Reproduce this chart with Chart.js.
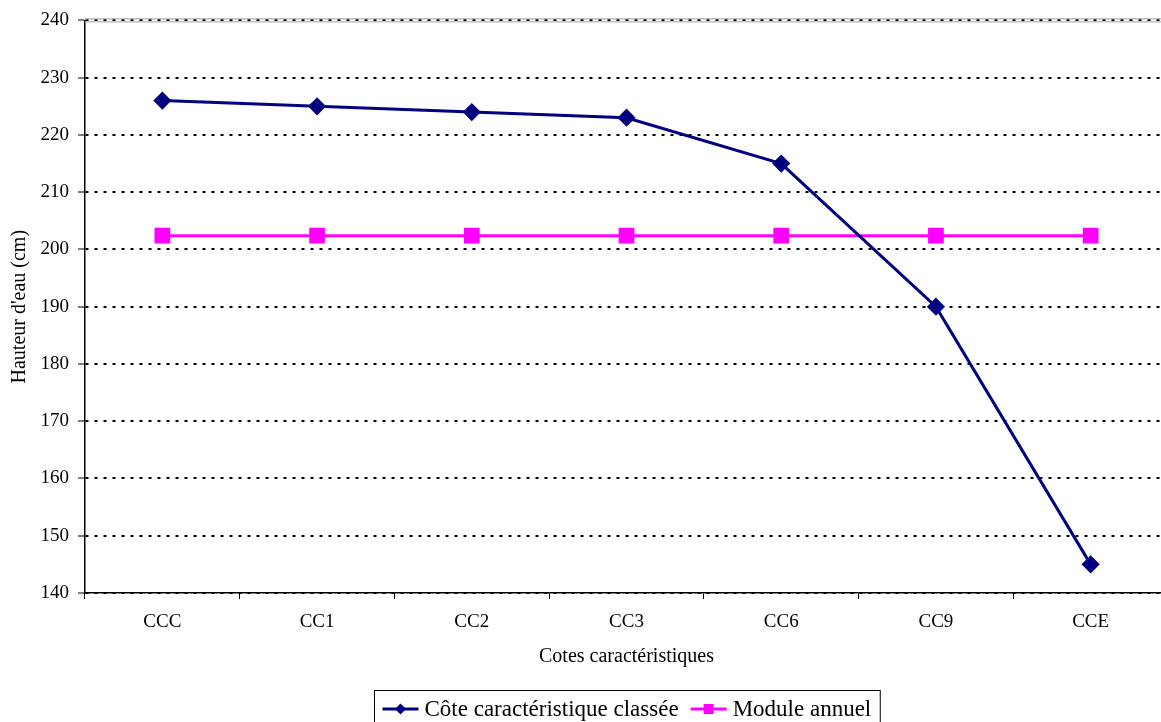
<!DOCTYPE html>
<html><head><meta charset="utf-8">
<script src="https://cdn.jsdelivr.net/npm/chart.js@4.4.0/dist/chart.umd.min.js"></script>
<style>html,body{margin:0;padding:0;overflow:hidden;background:#fff;width:1161px;height:722px}
#wrap{width:1180px;height:722px;position:relative}</style>
</head><body><div id="wrap"><canvas id="c" width="1180" height="722"></canvas></div>
<script>
const categories = ["CCC","CC1","CC2","CC3","CC6","CC9","CCE"];
const coteClassee = [226,225,224,223,215,190,145];
const moduleAnnuel = [202.4,202.4,202.4,202.4,202.4,202.4,202.4];
const yTicks = [140,150,160,170,180,190,200,210,220,230,240];
const seriesNames = ["Côte caractéristique classée","Module annuel"];
const serif = "'Liberation Serif','Times New Roman',serif";

const topLine = {
  id:'topLine',
  afterDraw(chart){
    const ctx=chart.ctx, a=chart.chartArea;
    ctx.save();
    ctx.strokeStyle='#a0a0a0'; ctx.lineWidth=1;
    ctx.beginPath(); ctx.moveTo(a.left,a.top-1.5); ctx.lineTo(a.right,a.top-1.5); ctx.stroke();
    ctx.beginPath(); ctx.moveTo(a.left,a.top+1.5); ctx.lineTo(a.right,a.top+1.5); ctx.stroke();
    ctx.restore();
  }
};
const boxLegend = {
  id:'boxLegend',
  afterDraw(chart){
    const ctx=chart.ctx, a=chart.chartArea;
    ctx.save();
    ctx.font = "23px "+serif;
    const ds=chart.data.datasets;
    const sample=36, gap=6, sep=12, padL=8, padR=9;
    let w=padL;
    const widths=ds.map(d=>ctx.measureText(d.label).width);
    ds.forEach((d,i)=>{w+=sample+gap+widths[i]; if(i<ds.length-1) w+=sep;});
    w+=padR;
    const cx=(a.left+a.right)/2;
    const x0=Math.round(cx-w/2)+0.5, y0=690.5, cy=709;
    ctx.strokeStyle='#000'; ctx.lineWidth=1;
    ctx.strokeRect(x0,y0,w,60);
    let x=x0+padL;
    ds.forEach((d,i)=>{
      ctx.strokeStyle=d.borderColor; ctx.lineWidth=3;
      ctx.beginPath(); ctx.moveTo(x,cy); ctx.lineTo(x+sample,cy); ctx.stroke();
      ctx.fillStyle=d.borderColor;
      const mx=x+sample/2;
      if(d.pointStyle==='rectRot'){
        ctx.beginPath(); ctx.moveTo(mx,cy-5.5); ctx.lineTo(mx+5.5,cy); ctx.lineTo(mx,cy+5.5); ctx.lineTo(mx-5.5,cy); ctx.closePath(); ctx.fill();
      } else {
        ctx.fillRect(mx-5,cy-5,10,10);
      }
      ctx.fillStyle='#000'; ctx.textBaseline='middle'; ctx.textAlign='left';
      ctx.fillText(d.label,x+sample+gap,cy+1);
      x+=sample+gap+widths[i]+sep;
    });
    ctx.restore();
  }
};

new Chart(document.getElementById('c'),{
  type:'line',
  data:{labels:categories,datasets:[
    {label:seriesNames[0],data:coteClassee,borderColor:'#000080',backgroundColor:'#000080',borderWidth:3,pointStyle:'rectRot',pointRadius:7,pointHoverRadius:7,tension:0,fill:false},
    {label:seriesNames[1],data:moduleAnnuel,borderColor:'#FF00FF',backgroundColor:'#FF00FF',borderWidth:3,pointStyle:'rect',pointRadius:9,pointHoverRadius:9,tension:0,fill:false}
  ]},
  options:{
    responsive:false,animation:false,
    layout:{padding:{left:0,right:12,top:20,bottom:0}},
    plugins:{legend:{display:false},tooltip:{enabled:false}},
    scales:{
      x:{
        offset:true,
        grid:{offset:true,drawOnChartArea:false,drawTicks:true,tickLength:6,tickColor:'#000',tickWidth:1},
        border:{display:true,color:'#000',width:1.5},
        ticks:{color:'#000',font:{family:serif,size:19},padding:12,maxRotation:0},
        title:{display:true,text:'Cotes caractéristiques',color:'#000',font:{family:serif,size:20},padding:{top:0,bottom:53}},
        afterFit(s){s.height=129;}
      },
      y:{
        min:140,max:240,
        afterBuildTicks(s){s.ticks=yTicks.map(v=>({value:v}));},
        grid:{color:'#000',lineWidth:2,tickColor:'#000',tickWidth:1,tickLength:7,tickBorderDash:[]},
        border:{display:true,color:'#000',width:1.5,dash:[3,6]},
        ticks:{color:'#000',font:{family:serif,size:19},padding:9},
        title:{display:true,text:"Hauteur d'eau (cm)",color:'#000',font:{family:serif,size:20},padding:{top:8,bottom:0}},
        afterFit(s){s.width=85;}
      }
    }
  },
  plugins:[topLine,boxLegend]
});
</script></body></html>
